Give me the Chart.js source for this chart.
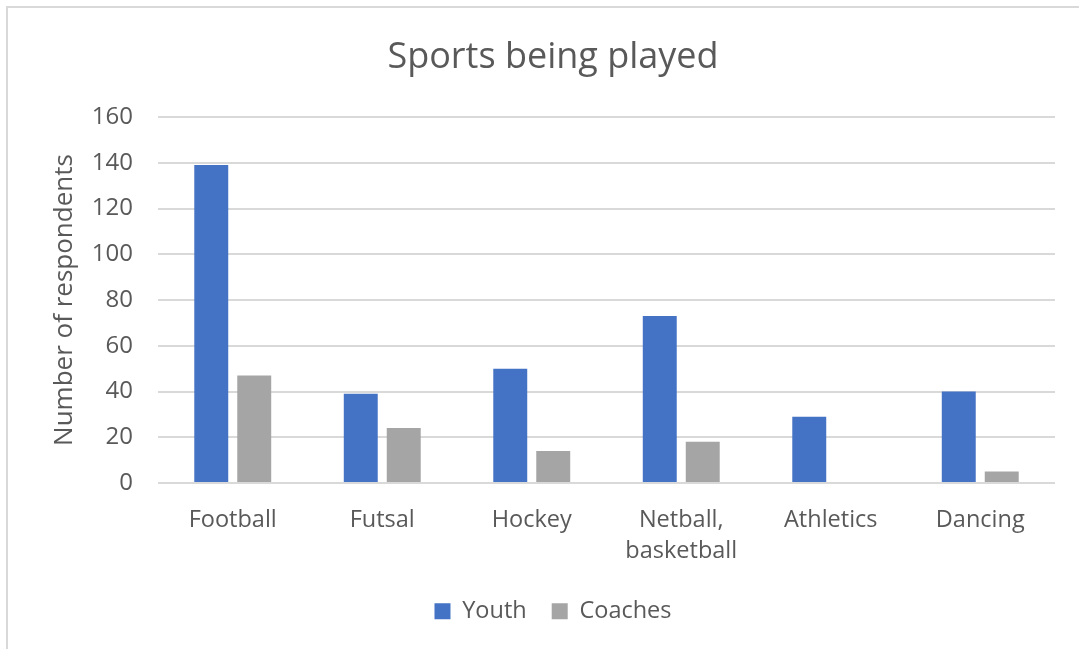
<!DOCTYPE html>
<html>
<head>
<meta charset="utf-8">
<script src="https://cdn.jsdelivr.net/npm/chart.js@4.4.1/dist/chart.umd.min.js"></script>
<style>
  html, body { margin: 0; padding: 0; background: #ffffff; }
  #wrap { position: relative; width: 1079px; height: 649px; overflow: hidden; }
  #frame { position: absolute; left: 6px; top: 6px; width: 1200px; height: 800px; border: 2px solid #d9d9d9; box-sizing: border-box; pointer-events: none; }
  canvas { position: absolute; left: 0; top: 0; }
</style>
</head>
<body>
<div id="wrap">
  <canvas id="c" width="1079" height="649"></canvas>
  <div id="frame"></div>
</div>
<script>
const categories = ['Football', 'Futsal', 'Hockey', ['Netball,', 'basketball'], 'Athletics', 'Dancing'];
const youth = [139, 39, 50, 73, 29, 40];
const coaches = [47, 24, 14, 18, 0, 5];
const yTicks = [0, 20, 40, 60, 80, 100, 120, 140, 160];

const FONT = "'Open Sans', 'DejaVu Sans', sans-serif";
const TXT = '#595959';

new Chart(document.getElementById('c'), {
  type: 'bar',
  data: {
    labels: categories,
    datasets: [
      { label: 'Youth', data: youth, backgroundColor: '#4472C4', borderWidth: 0 },
      { label: 'Coaches', data: coaches, backgroundColor: '#A5A5A5', borderWidth: 0 }
    ]
  },
  options: {
    responsive: false,
    animation: false,
    devicePixelRatio: 1,
    layout: { padding: { left: 51, right: 24, top: 0, bottom: 16 } },
    datasets: { bar: { categoryPercentage: 0.575, barPercentage: 0.79 } },
    plugins: {
      title: {
        display: true,
        text: 'Sports being played',
        color: TXT,
        font: { family: FONT, size: 36, weight: 'normal' },
        padding: { top: 36.4, bottom: 37.4 }
      },
      legend: {
        position: 'bottom',
        labels: {
          color: TXT,
          font: { family: FONT, size: 23.5 },
          boxWidth: 16,
          boxHeight: 16,
          padding: 25
        }
      },
      tooltip: { enabled: false }
    },
    scales: {
      x: {
        grid: { display: false, drawTicks: false },
        border: { display: false },
        ticks: { color: TXT, font: { family: FONT, size: 23.5, lineHeight: 1.35 }, padding: 21, maxRotation: 0, autoSkip: false },
        afterFit: s => { s.height = 91.5; }
      },
      y: {
        min: 0,
        max: 160,
        afterBuildTicks: s => { s.ticks = yTicks.map(v => ({ value: v })); },
        grid: { color: '#d9d9d9', lineWidth: 2, drawTicks: false },
        border: { display: false },
        ticks: { color: TXT, font: { family: FONT, size: 24 }, padding: 25 },
        title: {
          display: true,
          text: 'Number of respondents',
          color: TXT,
          font: { family: FONT, size: 26, lineHeight: 1 },
          padding: { top: 1, bottom: 0 }
        },
        afterFit: s => { s.width = 107; }
      }
    }
  }
});
</script>
</body>
</html>
